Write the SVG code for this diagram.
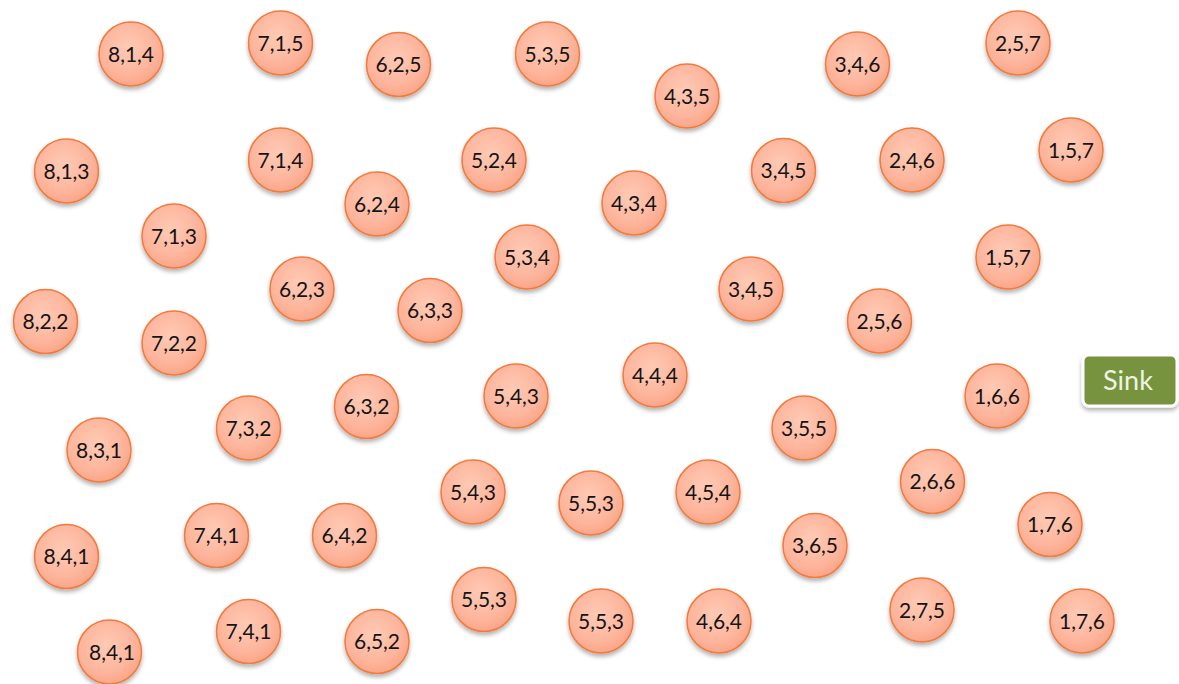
<svg xmlns="http://www.w3.org/2000/svg" width="1179" height="684" viewBox="0 0 1179 684">
<defs>
<radialGradient id="g" cx="0.45" cy="0.4" r="0.6">
<stop offset="0" stop-color="#FFCAB5"/>
<stop offset="0.7" stop-color="#FDB59C"/>
<stop offset="1" stop-color="#FAA688"/>
</radialGradient>
<filter id="sh" x="-30%" y="-30%" width="160%" height="170%">
<feDropShadow dx="0" dy="3" stdDeviation="2" flood-color="#000" flood-opacity="0.3"/>
</filter>
</defs>
<style>
.n circle{fill:url(#g);stroke:#F27A3C;stroke-width:1.5;filter:url(#sh)}
.n text{font-family:Lato,"Open Sans","Liberation Sans",sans-serif;font-size:21px;fill:#141414;text-anchor:middle}
#sink rect{fill:#77933C;stroke:#fff;stroke-width:3;filter:url(#sh)}
#sink text{font-family:Lato,"Open Sans","Liberation Sans",sans-serif;font-size:27px;fill:#EEF4E4;text-anchor:middle}
</style>
<rect width="1179" height="684" fill="#fff"/>
<g id="connectors"></g>
<g id="n1" class="n"><circle cx="131" cy="54" r="32"/><text x="131" y="61.5">8,1,4</text></g>
<g id="n2" class="n"><circle cx="280.5" cy="43" r="32"/><text x="280.5" y="50.5">7,1,5</text></g>
<g id="n3" class="n"><circle cx="398.5" cy="64.5" r="32"/><text x="398.5" y="72">6,2,5</text></g>
<g id="n4" class="n"><circle cx="547.5" cy="54" r="32"/><text x="547.5" y="61.5">5,3,5</text></g>
<g id="n5" class="n"><circle cx="687" cy="96" r="32"/><text x="687" y="103.5">4,3,5</text></g>
<g id="n6" class="n"><circle cx="857.5" cy="64" r="32"/><text x="857.5" y="71.5">3,4,6</text></g>
<g id="n7" class="n"><circle cx="1018" cy="43" r="32"/><text x="1018" y="50.5">2,5,7</text></g>
<g id="n8" class="n"><circle cx="66.5" cy="171" r="32"/><text x="66.5" y="178.5">8,1,3</text></g>
<g id="n9" class="n"><circle cx="280.5" cy="160" r="32"/><text x="280.5" y="167.5">7,1,4</text></g>
<g id="n10" class="n"><circle cx="494" cy="160" r="32"/><text x="494" y="167.5">5,2,4</text></g>
<g id="n11" class="n"><circle cx="377" cy="204" r="32"/><text x="377" y="211.5">6,2,4</text></g>
<g id="n12" class="n"><circle cx="634" cy="203" r="32"/><text x="634" y="210.5">4,3,4</text></g>
<g id="n13" class="n"><circle cx="783.5" cy="170.5" r="32"/><text x="783.5" y="178">3,4,5</text></g>
<g id="n14" class="n"><circle cx="912" cy="160" r="32"/><text x="912" y="167.5">2,4,6</text></g>
<g id="n15" class="n"><circle cx="1071" cy="150" r="32"/><text x="1071" y="157.5">1,5,7</text></g>
<g id="n16" class="n"><circle cx="174" cy="236" r="32"/><text x="174" y="243.5">7,1,3</text></g>
<g id="n17" class="n"><circle cx="527" cy="257" r="32"/><text x="527" y="264.5">5,3,4</text></g>
<g id="n18" class="n"><circle cx="1008" cy="257" r="32"/><text x="1008" y="264.5">1,5,7</text></g>
<g id="n19" class="n"><circle cx="302" cy="289" r="32"/><text x="302" y="296.5">6,2,3</text></g>
<g id="n20" class="n"><circle cx="751" cy="289" r="32"/><text x="751" y="296.5">3,4,5</text></g>
<g id="n21" class="n"><circle cx="45.5" cy="321.5" r="32"/><text x="45.5" y="329">8,2,2</text></g>
<g id="n22" class="n"><circle cx="430" cy="310.5" r="32"/><text x="430" y="318">6,3,3</text></g>
<g id="n23" class="n"><circle cx="879.5" cy="321" r="32"/><text x="879.5" y="328.5">2,5,6</text></g>
<g id="n24" class="n"><circle cx="174" cy="343" r="32"/><text x="174" y="350.5">7,2,2</text></g>
<g id="n25" class="n"><circle cx="655" cy="375" r="32"/><text x="655" y="382.5">4,4,4</text></g>
<g id="n26" class="n"><circle cx="516" cy="396" r="32"/><text x="516" y="403.5">5,4,3</text></g>
<g id="n27" class="n"><circle cx="366.5" cy="406.5" r="32"/><text x="366.5" y="414">6,3,2</text></g>
<g id="n28" class="n"><circle cx="997" cy="396" r="32"/><text x="997" y="403.5">1,6,6</text></g>
<g id="n29" class="n"><circle cx="248.5" cy="428" r="32"/><text x="248.5" y="435.5">7,3,2</text></g>
<g id="n30" class="n"><circle cx="804" cy="428" r="32"/><text x="804" y="435.5">3,5,5</text></g>
<g id="n31" class="n"><circle cx="99" cy="450" r="32"/><text x="99" y="457.5">8,3,1</text></g>
<g id="n32" class="n"><circle cx="932.5" cy="481.5" r="32"/><text x="932.5" y="489">2,6,6</text></g>
<g id="n33" class="n"><circle cx="473" cy="492" r="32"/><text x="473" y="499.5">5,4,3</text></g>
<g id="n34" class="n"><circle cx="591" cy="503" r="32"/><text x="591" y="510.5">5,5,3</text></g>
<g id="n35" class="n"><circle cx="708" cy="492" r="32"/><text x="708" y="499.5">4,5,4</text></g>
<g id="n36" class="n"><circle cx="1050" cy="524.5" r="32"/><text x="1050" y="532">1,7,6</text></g>
<g id="n37" class="n"><circle cx="216.5" cy="535.5" r="32"/><text x="216.5" y="543">7,4,1</text></g>
<g id="n38" class="n"><circle cx="344.5" cy="535.5" r="32"/><text x="344.5" y="543">6,4,2</text></g>
<g id="n39" class="n"><circle cx="815" cy="545.5" r="32"/><text x="815" y="553">3,6,5</text></g>
<g id="n40" class="n"><circle cx="66.5" cy="556.5" r="32"/><text x="66.5" y="564">8,4,1</text></g>
<g id="n41" class="n"><circle cx="484" cy="599.5" r="32"/><text x="484" y="607">5,5,3</text></g>
<g id="n42" class="n"><circle cx="601" cy="621" r="32"/><text x="601" y="628.5">5,5,3</text></g>
<g id="n43" class="n"><circle cx="719" cy="621" r="32"/><text x="719" y="628.5">4,6,4</text></g>
<g id="n44" class="n"><circle cx="922" cy="610" r="32"/><text x="922" y="617.5">2,7,5</text></g>
<g id="n45" class="n"><circle cx="1082" cy="621" r="32"/><text x="1082" y="628.5">1,7,6</text></g>
<g id="n46" class="n"><circle cx="248.5" cy="631.5" r="32"/><text x="248.5" y="639">7,4,1</text></g>
<g id="n47" class="n"><circle cx="377" cy="641.5" r="32"/><text x="377" y="649">6,5,2</text></g>
<g id="n48" class="n"><circle cx="109.5" cy="652" r="32"/><text x="112" y="659.5">8,4,1</text></g>
<g id="sink"><rect x="1083" y="355" width="94" height="51" rx="6"/><text x="1128" y="390">Sink</text></g>
</svg>
